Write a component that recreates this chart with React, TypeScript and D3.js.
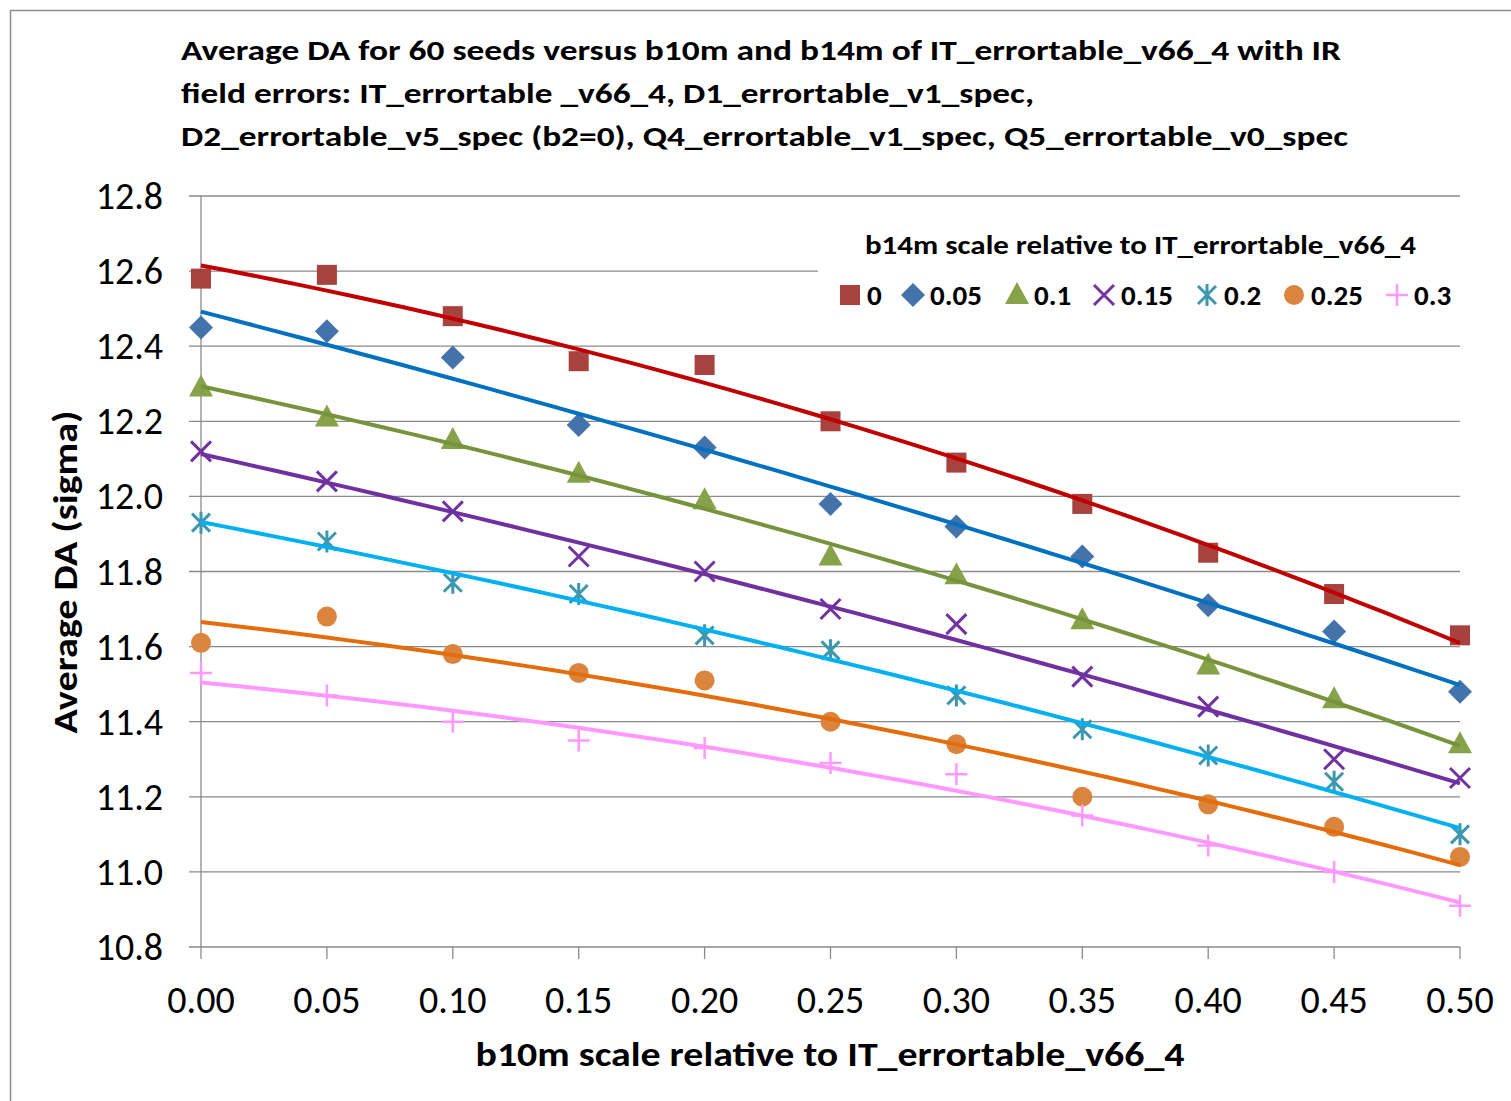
import React from "react";
import * as d3 from "d3";

const b10m = [0, 0.05, 0.1, 0.15, 0.2, 0.25, 0.3, 0.35, 0.4, 0.45, 0.5];
const b14mLabels = ["0", "0.05", "0.1", "0.15", "0.2", "0.25", "0.3"];

const da0 = [12.58, 12.59, 12.48, 12.36, 12.35, 12.2, 12.09, 11.98, 11.85, 11.74, 11.63];
const da005 = [12.45, 12.44, 12.37, 12.19, 12.13, 11.98, 11.92, 11.84, 11.71, 11.64, 11.48];
const da01 = [12.29, 12.21, 12.15, 12.06, 11.99, 11.84, 11.79, 11.67, 11.55, 11.46, 11.34];
const da015 = [12.12, 12.04, 11.96, 11.84, 11.8, 11.7, 11.66, 11.52, 11.44, 11.3, 11.25];
const da02 = [11.93, 11.88, 11.77, 11.74, 11.63, 11.59, 11.47, 11.38, 11.31, 11.24, 11.1];
const da025 = [11.61, 11.68, 11.58, 11.53, 11.51, 11.4, 11.34, 11.2, 11.18, 11.12, 11.04];
const da03 = [11.53, 11.47, 11.4, 11.35, 11.33, 11.29, 11.26, 11.15, 11.07, 11.0, 10.91];

const yTicks = [10.8, 11.0, 11.2, 11.4, 11.6, 11.8, 12.0, 12.2, 12.4, 12.6, 12.8];

const series = [
  { label: "0", values: da0, marker: "square", color: "#A8423F", trend: "#C00000" },
  { label: "0.05", values: da005, marker: "diamond", color: "#4472AA", trend: "#0070C0" },
  { label: "0.1", values: da01, marker: "triangle", color: "#86A34A", trend: "#77933C" },
  { label: "0.15", values: da015, marker: "x", color: "#7133A0", trend: "#7030A0" },
  { label: "0.2", values: da02, marker: "star", color: "#3D97AE", trend: "#00B0F0" },
  { label: "0.25", values: da025, marker: "circle", color: "#DB843D", trend: "#E46C0A" },
  { label: "0.3", values: da03, marker: "plus", color: "#FF99FF", trend: "#FF99FF" },
];

const FONT = "Carlito, Calibri, 'Open Sans', sans-serif";
const W = 1511;
const H = 1101;
const margin = { left: 201, right: 51, top: 196, bottom: 154 };

// least squares quadratic (Excel polynomial trendline, order 2)
function polyFit(xs: number[], ys: number[]) {
  const S = [0, 0, 0, 0, 0];
  const T = [0, 0, 0];
  xs.forEach((x, i) => {
    for (let k = 0; k < 5; k++) S[k] += Math.pow(x, k);
    for (let k = 0; k < 3; k++) T[k] += ys[i] * Math.pow(x, k);
  });
  const A = [
    [S[0], S[1], S[2], T[0]],
    [S[1], S[2], S[3], T[1]],
    [S[2], S[3], S[4], T[2]],
  ];
  for (let c = 0; c < 3; c++) {
    for (let r = c + 1; r < 3; r++) {
      const f = A[r][c] / A[c][c];
      for (let k = c; k < 4; k++) A[r][k] -= f * A[c][k];
    }
  }
  const coef = [0, 0, 0];
  for (let r = 2; r >= 0; r--) {
    let s = A[r][3];
    for (let k = r + 1; k < 3; k++) s -= A[r][k] * coef[k];
    coef[r] = s / A[r][r];
  }
  return (x: number) => coef[0] + coef[1] * x + coef[2] * x * x;
}

function Marker({ type, x, y, color }: { type: string; x: number; y: number; color: string }) {
  switch (type) {
    case "square":
      return <rect x={x - 10} y={y - 10} width={20} height={20} fill={color} />;
    case "diamond":
      return <path d={`M${x},${y - 12}L${x + 12},${y}L${x},${y + 12}L${x - 12},${y}Z`} fill={color} />;
    case "triangle":
      return <path d={`M${x},${y - 13}L${x + 12},${y + 9}L${x - 12},${y + 9}Z`} fill={color} />;
    case "circle":
      return <circle cx={x} cy={y} r={10} fill={color} />;
    case "x":
      return (
        <path
          d={`M${x - 10},${y - 10}L${x + 10},${y + 10}M${x - 10},${y + 10}L${x + 10},${y - 10}`}
          stroke={color}
          strokeWidth={3}
        />
      );
    case "star":
      return (
        <path
          d={`M${x - 9},${y - 9}L${x + 9},${y + 9}M${x - 9},${y + 9}L${x + 9},${y - 9}M${x},${y - 11}L${x},${y + 11}`}
          stroke={color}
          strokeWidth={3}
        />
      );
    case "plus":
      return (
        <path d={`M${x - 11},${y}L${x + 11},${y}M${x},${y - 11}L${x},${y + 11}`} stroke={color} strokeWidth={2.5} />
      );
    default:
      return null;
  }
}

export default function App() {
  const x = d3.scaleLinear().domain([0, 0.5]).range([margin.left, W - margin.right]);
  const y = d3.scaleLinear().domain([10.8, 12.8]).range([H - margin.bottom, margin.top]);

  const samples = d3.range(0, 0.5001, 0.01);

  const legendX = [850, 913, 1017, 1104, 1207, 1294, 1397];
  const legendY = 295;

  return (
    <svg width={W} height={H} style={{ position: "absolute", left: 0, top: 0, background: "#fff" }}>
      <rect x={10.5} y={10.5} width={W + 10} height={H + 10} fill="#fff" stroke="#8c8c8c" strokeWidth={1.5} />

      {/* title */}
      <g fontFamily={FONT} fontWeight="bold" fontSize={29} fill="#000">
        <text x={181} y={60} textLength={1160} lengthAdjust="spacingAndGlyphs">
          Average DA for 60 seeds versus b10m and b14m of IT_errortable_v66_4 with IR
        </text>
        <text x={181} y={103} textLength={853} lengthAdjust="spacingAndGlyphs">
          field errors: IT_errortable _v66_4, D1_errortable_v1_spec,
        </text>
        <text x={181} y={146} textLength={1167} lengthAdjust="spacingAndGlyphs">
          D2_errortable_v5_spec (b2=0), Q4_errortable_v1_spec, Q5_errortable_v0_spec
        </text>
      </g>

      {/* grid */}
      {yTicks.map((t) => (
        <line key={t} x1={margin.left - 12} x2={W - margin.right} y1={y(t)} y2={y(t)} stroke="#8a8a8a" strokeWidth={1.3} />
      ))}
      <line x1={margin.left} x2={margin.left} y1={margin.top} y2={H - margin.bottom} stroke="#8a8a8a" strokeWidth={1.3} />
      {b10m.map((t) => (
        <line key={t} x1={x(t)} x2={x(t)} y1={H - margin.bottom} y2={H - margin.bottom + 12} stroke="#8a8a8a" strokeWidth={1.3} />
      ))}

      {/* tick labels */}
      <g fontFamily={FONT} fontSize={38} fill="#000">
        {yTicks.map((t) => (
          <text key={t} x={163} y={y(t) + 13} textAnchor="end">
            {t.toFixed(1)}
          </text>
        ))}
        {b10m.map((t) => (
          <text key={t} x={x(t)} y={1013} textAnchor="middle">
            {t.toFixed(2)}
          </text>
        ))}
      </g>

      {/* axis titles */}
      <text
        x={830}
        y={1066}
        textAnchor="middle"
        fontFamily={FONT}
        fontWeight="bold"
        fontSize={34}
        textLength={709}
        lengthAdjust="spacingAndGlyphs"
      >
        b10m scale relative to IT_errortable_v66_4
      </text>
      <text
        transform="translate(77,572) rotate(-90)"
        textAnchor="middle"
        fontFamily={FONT}
        fontWeight="bold"
        fontSize={34}
        textLength={323}
        lengthAdjust="spacingAndGlyphs"
      >
        Average DA (sigma)
      </text>

      {/* legend background */}
      <rect x={818} y={226} width={W - margin.right - 818 + 20} height={92} fill="#fff" />

      {/* markers */}
      {series.map((s) => (
        <g key={s.label}>
          {s.values.map((v, i) => (
            <Marker key={i} type={s.marker} x={x(b10m[i])} y={y(v)} color={s.color} />
          ))}
        </g>
      ))}

      {/* trendlines */}
      {series.map((s) => {
        const f = polyFit(b10m, s.values);
        const pts = samples.map((t) => [x(t), y(f(t))] as [number, number]);
        return (
          <path key={s.label} d={d3.line()(pts) || ""} fill="none" stroke={s.trend} strokeWidth={4} />
        );
      })}

      {/* legend */}
      <text
        x={865}
        y={254}
        fontFamily={FONT}
        fontWeight="bold"
        fontSize={27}
        textLength={551}
        lengthAdjust="spacingAndGlyphs"
      >
        b14m scale relative to IT_errortable_v66_4
      </text>
      {series.map((s, i) => (
        <g key={s.label}>
          <Marker type={s.marker} x={legendX[i]} y={legendY} color={s.color} />
          <text x={legendX[i] + 17} y={legendY + 10} fontFamily={FONT} fontWeight="bold" fontSize={29}>
            {b14mLabels[i]}
          </text>
        </g>
      ))}
    </svg>
  );
}
